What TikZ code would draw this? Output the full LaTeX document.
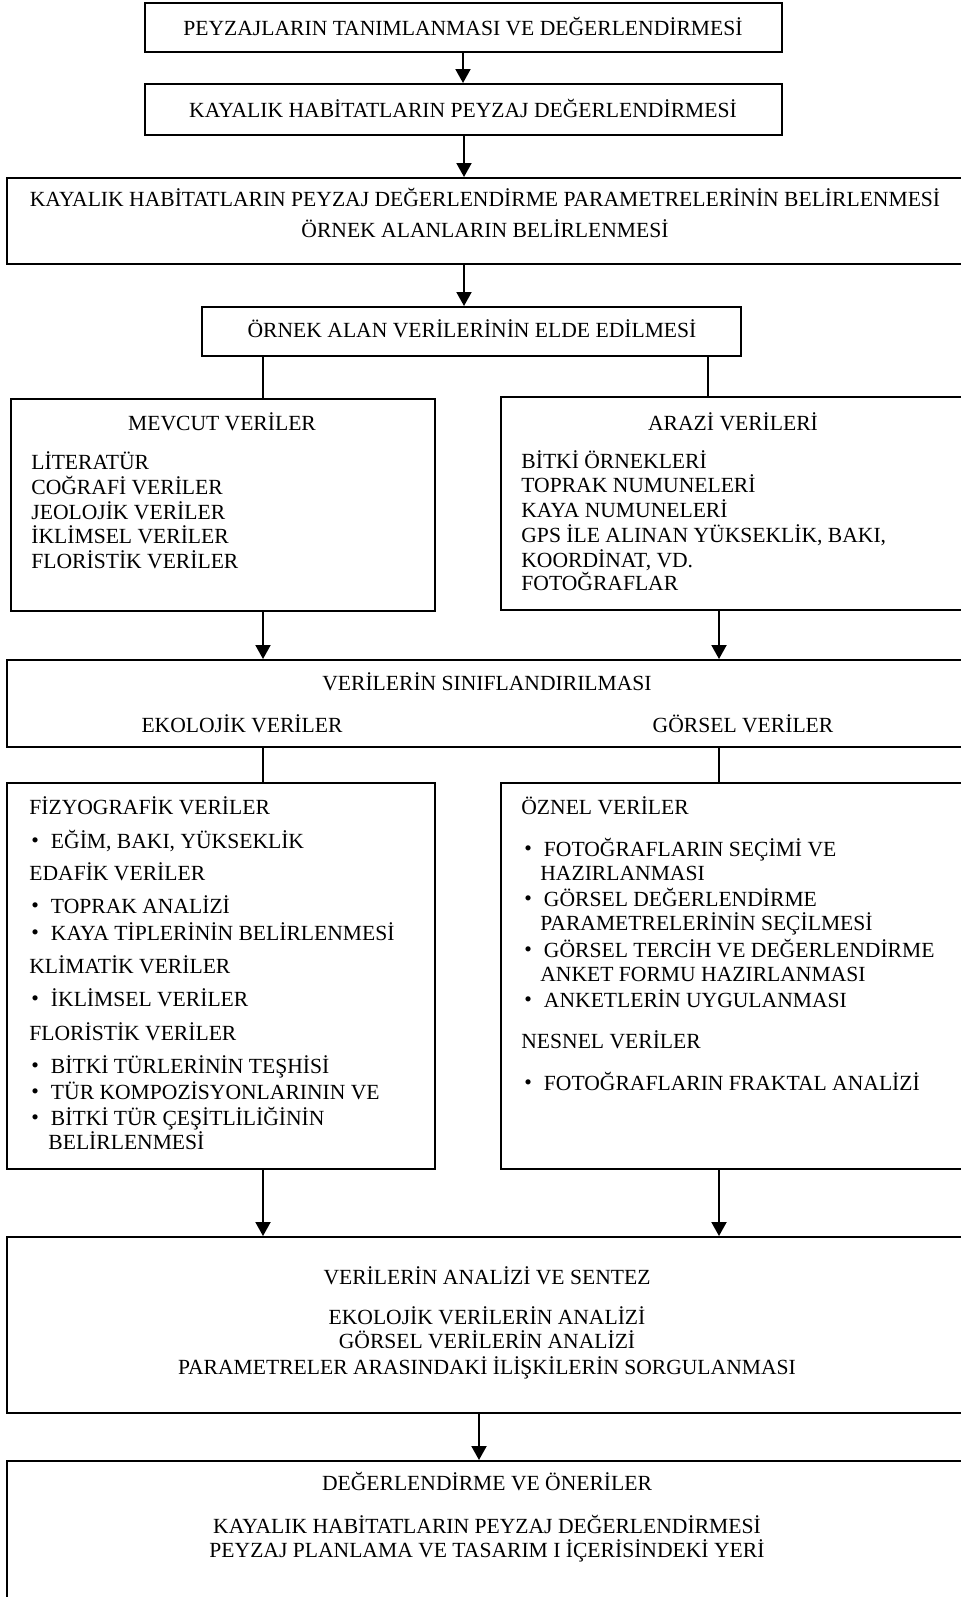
\documentclass[tikz,border=0pt]{standalone}
\usepackage{fontspec}
\setmainfont{Liberation Serif}
\usetikzlibrary{fit,arrows.meta}
\newcommand\bul{\raisebox{0.5pt}{\textbullet}\hspace{6pt}}
\begin{document}
\begin{tikzpicture}[x=0.5pt,y=-0.5pt,
  box/.style={draw=black, line width=1pt, inner sep=0pt},
  arr/.style={line width=1pt, -{Triangle[length=7pt,width=7.5pt]}},
  ln/.style={line width=1pt},
  txt/.style={inner sep=0pt, font=\fontsize{10.8}{12}\selectfont},
  tc/.style={txt, anchor=base},
  tl/.style={txt, anchor=base west}]
\useasboundingbox (0,0) rectangle (961,1597);
\clip (0,0) rectangle (961,1597);
% boxes
\node[box, fit={(145,3) (782,52)}] (b1) {};
\node[box, fit={(145,84) (782,135)}] (b2) {};
\node[box, fit={(7,178) (968,264)}] (b3) {};
\node[box, fit={(202,307) (741,356)}] (b4) {};
\node[box, fit={(11,399) (435,611)}] (L1) {};
\node[box, fit={(501,397) (968,610)}] (R1) {};
\node[box, fit={(7,660) (968,747)}] (b5) {};
\node[box, fit={(7,783) (435,1169)}] (L2) {};
\node[box, fit={(501,783) (968,1169)}] (R2) {};
\node[box, fit={(7,1237) (968,1413)}] (b6) {};
\node[box, fit={(7,1461) (968,1620)}] (b7) {};
% connector x positions
\coordinate (xa) at (463,0);
\coordinate (xb) at (464,0);
\coordinate (xl) at (263,0);
\coordinate (xr) at (708,0);
\coordinate (xr2) at (719,0);
\coordinate (xc) at (479,0);
% connectors
\draw[arr] (b1.south -| xa) -- (b2.north -| xa);
\draw[arr] (b2.south -| xb) -- (b3.north -| xb);
\draw[arr] (b3.south -| xb) -- (b4.north -| xb);
\draw[ln] (b4.south -| xl) -- (L1.north -| xl);
\draw[ln] (b4.south -| xr) -- (R1.north -| xr);
\draw[arr] (L1.south -| xl) -- (b5.north -| xl);
\draw[arr] (R1.south -| xr2) -- (b5.north -| xr2);
\draw[ln] (b5.south -| xl) -- (L2.north -| xl);
\draw[ln] (b5.south -| xr2) -- (R2.north -| xr2);
\draw[arr] (L2.south -| xl) -- (b6.north -| xl);
\draw[arr] (R2.south -| xr2) -- (b6.north -| xr2);
\draw[arr] (b6.south -| xc) -- (b7.north -| xc);
% texts
\node[tc] (t1) at (463,35) {PEYZAJLARIN TANIMLANMASI VE DEĞERLENDİRMESİ};
\node[tc] (t2) at (463,117) {KAYALIK HABİTATLARIN PEYZAJ DEĞERLENDİRMESİ};
\node[tc] (t3a) at (485,206) {KAYALIK HABİTATLARIN PEYZAJ DEĞERLENDİRME PARAMETRELERİNİN BELİRLENMESİ};
\node[tc] (t3b) at (485,237) {ÖRNEK ALANLARIN BELİRLENMESİ};
\node[tc] (t4) at (472,337) {ÖRNEK ALAN VERİLERİNİN ELDE EDİLMESİ};
% MEVCUT
\node[tc] (m0) at (222,430) {MEVCUT VERİLER};
\node[tl] (m1) at (31,469) {LİTERATÜR};
\node[tl] (m2) at (31,494) {COĞRAFİ VERİLER};
\node[tl] (m3) at (31,519) {JEOLOJİK VERİLER};
\node[tl] (m4) at (31,543) {İKLİMSEL VERİLER};
\node[tl] (m5) at (31,568) {FLORİSTİK VERİLER};
% ARAZI
\node[tc] (a0) at (733,430) {ARAZİ VERİLERİ};
\node[tl] (a1) at (521,468) {BİTKİ ÖRNEKLERİ};
\node[tl] (a2) at (521,492) {TOPRAK NUMUNELERİ};
\node[tl] (a3) at (521,517) {KAYA NUMUNELERİ};
\node[tl] (a4) at (521,542) {GPS İLE ALINAN YÜKSEKLİK, BAKI,};
\node[tl] (a5) at (521,567) {KOORDİNAT, VD.};
\node[tl] (a6) at (521,590) {FOTOĞRAFLAR};
% siniflandirma
\node[tc] (s0) at (487,690) {VERİLERİN SINIFLANDIRILMASI};
\node[tc] (s1) at (242,732) {EKOLOJİK VERİLER};
\node[tc] (s2) at (743,732) {GÖRSEL VERİLER};
% left lower
\node[tl] (e1) at (29,814) {FİZYOGRAFİK VERİLER};
\node[tl] (e2) at (31,848) {\bul EĞİM, BAKI, YÜKSEKLİK};
\node[tl] (e3) at (29,880) {EDAFİK VERİLER};
\node[tl] (e4) at (31,913) {\bul TOPRAK ANALİZİ};
\node[tl] (e5) at (31,940) {\bul KAYA TİPLERİNİN BELİRLENMESİ};
\node[tl] (e6) at (29,973) {KLİMATİK VERİLER};
\node[tl] (e7) at (31,1006) {\bul İKLİMSEL VERİLER};
\node[tl] (e8) at (29,1040) {FLORİSTİK VERİLER};
\node[tl] (e9) at (31,1073) {\bul BİTKİ TÜRLERİNİN TEŞHİSİ};
\node[tl] (e10) at (31,1099) {\bul TÜR KOMPOZİSYONLARININ VE};
\node[tl] (e11) at (31,1125) {\bul BİTKİ TÜR ÇEŞİTLİLİĞİNİN};
\node[tl] (e12) at (48,1149) {BELİRLENMESİ};
% right lower
\node[tl] (g1) at (521,814) {ÖZNEL VERİLER};
\node[tl] (g2) at (524,856) {\bul FOTOĞRAFLARIN SEÇİMİ VE};
\node[tl] (g3) at (540,880) {HAZIRLANMASI};
\node[tl] (g4) at (524,906) {\bul GÖRSEL DEĞERLENDİRME};
\node[tl] (g5) at (540,930) {PARAMETRELERİNİN SEÇİLMESİ};
\node[tl] (g6) at (524,957) {\bul GÖRSEL TERCİH VE DEĞERLENDİRME};
\node[tl] (g7) at (540,981) {ANKET FORMU HAZIRLANMASI};
\node[tl] (g8) at (524,1007) {\bul ANKETLERİN UYGULANMASI};
\node[tl] (g9) at (521,1048) {NESNEL VERİLER};
\node[tl] (g10) at (524,1090) {\bul FOTOĞRAFLARIN FRAKTAL ANALİZİ};
% analiz
\node[tc] (n0) at (487,1284) {VERİLERİN ANALİZİ VE SENTEZ};
\node[tc] (n1) at (487,1324) {EKOLOJİK VERİLERİN ANALİZİ};
\node[tc] (n2) at (487,1348) {GÖRSEL VERİLERİN ANALİZİ};
\node[tc] (n3) at (487,1374) {PARAMETRELER ARASINDAKİ İLİŞKİLERİN SORGULANMASI};
% degerlendirme
\node[tc] (d0) at (487,1490) {DEĞERLENDİRME VE ÖNERİLER};
\node[tc] (d1) at (487,1533) {KAYALIK HABİTATLARIN PEYZAJ DEĞERLENDİRMESİ};
\node[tc] (d2) at (487,1557) {PEYZAJ PLANLAMA VE TASARIM I İÇERİSİNDEKİ YERİ};
\end{tikzpicture}
\end{document}
